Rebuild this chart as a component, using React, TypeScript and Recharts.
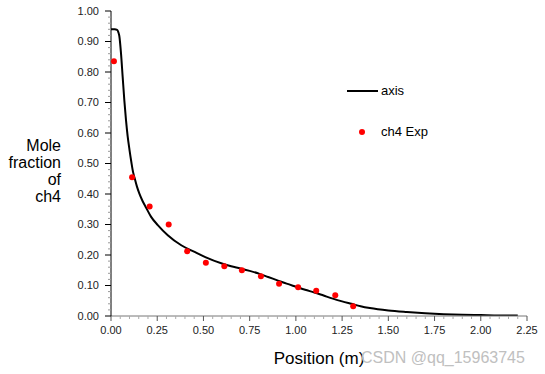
import React from 'react';
import { ComposedChart, Line, Scatter, XAxis, YAxis, Legend, Label } from 'recharts';

// Simulated axis profile (line)
const lineX = [0, 0.02, 0.033, 0.04, 0.045, 0.054, 0.063, 0.072, 0.081, 0.09, 0.1, 0.11, 0.12, 0.126, 0.14, 0.153, 0.17, 0.19, 0.217, 0.253, 0.307, 0.38, 0.452, 0.51, 0.6, 0.65, 0.7, 0.75, 0.8, 0.85, 0.9, 0.95, 1.0, 1.05, 1.1, 1.15, 1.2, 1.25, 1.3, 1.35, 1.4, 1.5, 1.6, 1.7, 1.8, 1.9, 2.0, 2.1, 2.2];
const lineY = [0.94, 0.94, 0.938, 0.93, 0.918, 0.862, 0.785, 0.708, 0.643, 0.59, 0.545, 0.505, 0.47, 0.456, 0.425, 0.402, 0.378, 0.355, 0.325, 0.298, 0.265, 0.232, 0.21, 0.193, 0.172, 0.163, 0.156, 0.148, 0.139, 0.128, 0.117, 0.106, 0.096, 0.086, 0.077, 0.067, 0.057, 0.048, 0.04, 0.032, 0.026, 0.018, 0.013, 0.009, 0.006, 0.004, 0.003, 0.002, 0.002];

// Experimental ch4 points
const expX = [0.016, 0.114, 0.209, 0.312, 0.412, 0.513, 0.613, 0.708, 0.811, 0.909, 1.012, 1.11, 1.213, 1.31];
const expY = [0.835, 0.455, 0.359, 0.3, 0.212, 0.175, 0.163, 0.15, 0.13, 0.106, 0.094, 0.083, 0.068, 0.032];

// Ticks (major + minor)
const xTicks = [0, 0.05, 0.1, 0.15, 0.2, 0.25, 0.3, 0.35, 0.4, 0.45, 0.5, 0.55, 0.6, 0.65, 0.7, 0.75, 0.8, 0.85, 0.9, 0.95, 1.0, 1.05, 1.1, 1.15, 1.2, 1.25, 1.3, 1.35, 1.4, 1.45, 1.5, 1.55, 1.6, 1.65, 1.7, 1.75, 1.8, 1.85, 1.9, 1.95, 2.0, 2.05, 2.1, 2.15, 2.2, 2.25];
const yTicks = [0, 0.02, 0.04, 0.06, 0.08, 0.1, 0.12, 0.14, 0.16, 0.18, 0.2, 0.22, 0.24, 0.26, 0.28, 0.3, 0.32, 0.34, 0.36, 0.38, 0.4, 0.42, 0.44, 0.46, 0.48, 0.5, 0.52, 0.54, 0.56, 0.58, 0.6, 0.62, 0.64, 0.66, 0.68, 0.7, 0.72, 0.74, 0.76, 0.78, 0.8, 0.82, 0.84, 0.86, 0.88, 0.9, 0.92, 0.94, 0.96, 0.98, 1.0];

const seriesNames = ['axis', 'ch4 Exp'];
const xLabel = 'Position (m)';
const yLabelLines = ['Mole', 'fraction', 'of', 'ch4'];
const watermark = 'CSDN @qq_15963745';

const lineData = lineX.map((x, i) => ({ x, y: lineY[i] }));
const expData = expX.map((x, i) => ({ x, y: expY[i] }));

const FONT = '"Liberation Sans", Arial, sans-serif';

const YTick = (props: any) => {
  const { x, y, payload } = props;
  const v = payload.value as number;
  const major = Math.round(v * 100) % 10 === 0;
  const axisX = x + 12;
  return (
    <g>
      <line x1={axisX} x2={axisX - (major ? 6 : 3)} y1={y} y2={y} stroke={major ? '#000' : '#999'} strokeWidth={1} />
      {major && (
        <text x={x} y={y} dy="0.36em" textAnchor="end" fontFamily={FONT} fontSize={11} fill="#222">
          {v.toFixed(2)}
        </text>
      )}
    </g>
  );
};

const XTick = (props: any) => {
  const { x, y, payload } = props;
  const v = payload.value as number;
  const major = Math.round(v * 100) % 25 === 0;
  const axisY = y - 10;
  return (
    <g>
      <line x1={x} x2={x} y1={axisY} y2={axisY + (major ? 5 : 3)} stroke={major ? '#555' : '#aaa'} strokeWidth={1} />
      {major && (
        <text x={x} y={y} dy="0.71em" textAnchor="middle" fontFamily={FONT} fontSize={11} fill="#222">
          {v.toFixed(2)}
        </text>
      )}
    </g>
  );
};

const YLabel = () => (
  <text textAnchor="end" fontFamily={FONT} fontSize={16} fill="#000">
    {yLabelLines.map((t, i) => (
      <tspan key={t} x={61} y={151 + i * 17}>{t}</tspan>
    ))}
  </text>
);

const XLabel = () => (
  <g>
    <text x={319} y={364} textAnchor="middle" fontFamily={FONT} fontSize={17} fill="#000">{xLabel}</text>
    <text x={361} y={363} textAnchor="start" fontFamily={FONT} fontSize={16} fill="#c0c0c0">{watermark}</text>
  </g>
);

const LegendContent = () => (
  <div style={{ position: 'relative', width: 160, height: 70, fontFamily: FONT, fontSize: 13, color: '#000' }}>
    <svg width={40} height={20} style={{ position: 'absolute', left: 0, top: 1 }}>
      <line x1={7} x2={38} y1={10} y2={10} stroke="#000" strokeWidth={2} />
    </svg>
    <div style={{ position: 'absolute', left: 41, top: 3, lineHeight: '16px' }}>{seriesNames[0]}</div>
    <svg width={40} height={20} style={{ position: 'absolute', left: 0, top: 42 }}>
      <circle cx={22} cy={10} r={3} fill="#ff0000" />
    </svg>
    <div style={{ position: 'absolute', left: 41, top: 44, lineHeight: '16px' }}>{seriesNames[1]}</div>
  </div>
);

const Dot = (props: any) => <circle cx={props.cx} cy={props.cy} r={3} fill="#ff0000" />;

export default function App() {
  return (
    <div style={{ position: 'absolute', left: 0, top: 0, width: 545, height: 374, background: '#fff' }}>
      <ComposedChart width={545} height={374} margin={{ top: 11, right: 18, bottom: 28, left: 0 }}>
        <XAxis
          dataKey="x"
          type="number"
          domain={[0, 2.25]}
          ticks={xTicks}
          interval={0}
          height={30}
          tickSize={6}
          tickMargin={4}
          tickLine={false}
          axisLine={{ stroke: '#777' }}
          tick={<XTick />}
          allowDataOverflow
        >
          <Label content={<XLabel />} />
        </XAxis>
        <YAxis
          dataKey="y"
          type="number"
          domain={[0, 1]}
          ticks={yTicks}
          interval={0}
          width={111}
          tickSize={6}
          tickMargin={6}
          tickLine={false}
          axisLine={{ stroke: '#000' }}
          tick={<YTick />}
          allowDataOverflow
        >
          <Label content={<YLabel />} />
        </YAxis>
        <Legend
          layout="horizontal"
          verticalAlign="middle"
          align="center"
          content={<LegendContent />}
          wrapperStyle={{ position: 'absolute', left: 340, top: 80, width: 160, height: 70 }}
        />
        <Line
          data={lineData}
          dataKey="y"
          type="monotone"
          stroke="#000"
          strokeWidth={2}
          dot={false}
          activeDot={false}
          isAnimationActive={false}
          name={seriesNames[0]}
        />
        <Scatter
          data={expData}
          dataKey="y"
          fill="#ff0000"
          shape={<Dot />}
          isAnimationActive={false}
          name={seriesNames[1]}
        />
      </ComposedChart>
    </div>
  );
}
